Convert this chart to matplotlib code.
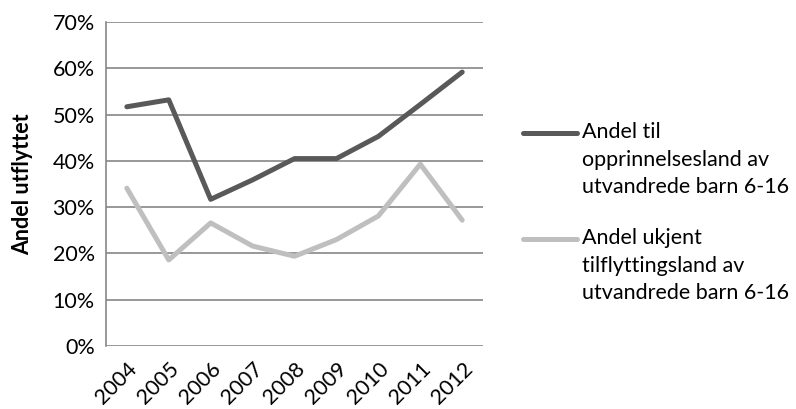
import numpy as np
import matplotlib.pyplot as plt
from matplotlib.lines import Line2D
from matplotlib.ticker import PercentFormatter

plt.rcParams['font.family'] = ['Lato', 'DejaVu Sans']

years = ['2004', '2005', '2006', '2007', '2008', '2009', '2010', '2011', '2012']
andel_opprinnelse = [51.7, 53.2, 31.7, 35.9, 40.5, 40.5, 45.3, 52.2, 59.2]
andel_ukjent = [34.1, 18.6, 26.6, 21.6, 19.4, 23.0, 28.1, 39.3, 27.2]
labels = ['Andel til\nopprinnelsesland av\nutvandrede barn 6-16',
          'Andel ukjent\ntilflyttingsland av\nutvandrede barn 6-16']
colors = ['#595959', '#bfbfbf']

fs = 15.5

fig = plt.figure(figsize=(7.96, 4.09), dpi=100)
ax = fig.add_axes([0.133, 0.154, 0.474, 0.792])

x = np.arange(len(years))
ax.plot(x, andel_opprinnelse, color=colors[0], lw=3.6, solid_capstyle='round', zorder=3)
ax.plot(x, andel_ukjent, color=colors[1], lw=3.6, solid_capstyle='round', zorder=3)

ax.set_xlim(-0.5, len(years) - 0.5)
ax.set_ylim(0, 70)
ax.set_yticks(np.arange(0, 71, 10))
ax.yaxis.set_major_formatter(PercentFormatter(decimals=0))
ax.set_xticks(x)
ax.set_xticklabels(years, rotation=45, ha='right', rotation_mode='anchor')
ax.tick_params(axis='both', length=0, labelsize=fs, colors='black')
ax.tick_params(axis='y', pad=8)
ax.tick_params(axis='x', pad=9)
ax.grid(axis='y', color='#868686', lw=1.2)
ax.set_axisbelow(True)
for s in ['top', 'right', 'bottom']:
    ax.spines[s].set_visible(False)
ax.spines['left'].set_color('#868686')
ax.spines['left'].set_linewidth(1.2)
ax.set_ylabel('Andel utflyttet', fontsize=fs, fontweight='bold', labelpad=14)

# legend drawn by hand so the handle sits on the first text line
leg_y = [133, 239]
for c, lab, yp in zip(colors, labels, leg_y):
    yf = 1 - yp / 409
    fig.add_artist(Line2D([523 / 796, 577 / 796], [yf, yf], color=c, lw=3.6,
                          solid_capstyle='round', transform=fig.transFigure))
    fig.text(582 / 796, yf + 11 / 409, lab, fontsize=fs, va='top', ha='left',
             linespacing=1.47)

fig.savefig('out.png', dpi=100)
